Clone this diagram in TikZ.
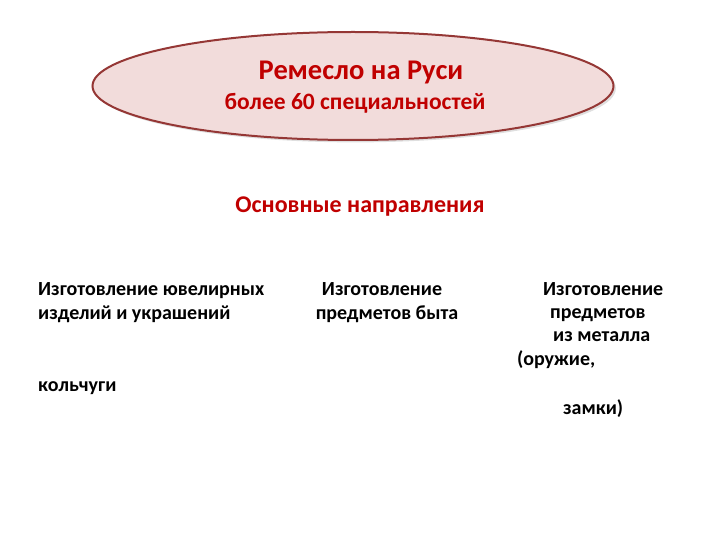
\documentclass[tikz,border=0pt]{standalone}
\usepackage{fontspec}
\setmainfont{Carlito}
\usetikzlibrary{shapes.geometric,shadows}
\definecolor{darkred}{HTML}{C00000}
\definecolor{rim}{HTML}{953735}
\definecolor{pink}{HTML}{F2DCDB}

\begin{document}
\begin{tikzpicture}[x=1pt,y=-1pt]
    \tikzstyle{title}=[ellipse,draw=rim,line width=2pt,fill=pink,minimum width=521pt,minimum height=108pt,inner sep=0pt,drop shadow={opacity=0.25}]
    \tikzstyle{red text}=[text=darkred,font=\bfseries,inner sep=0pt]
    \tikzstyle{item}=[font=\bfseries\fontsize{20}{24}\selectfont,inner sep=0pt,anchor=base west]
    \useasboundingbox (0,0) rectangle (720,540);

    % Main ellipse
    \node[title] (craft) at (353,86) {};
    \node[red text,font=\bfseries\fontsize{28.5}{32}\selectfont,anchor=base] (name) at (361,80) {Ремесло на Руси};
    \node[red text,font=\bfseries\fontsize{23.5}{28}\selectfont,anchor=base] (count) at (355,110) {более 60 специальностей};

    % Heading
    \node[red text,font=\bfseries\fontsize{24}{28}\selectfont,anchor=base] (main) at (360,212) {Основные направления};

    % Left column
    \node[item] (jewel-1) at (38,295) {Изготовление ювелирных};
    \node[item] (jewel-2) at (38,319) {изделий и украшений};
    \node[item] (mail) at (38,391) {кольчуги};

    % Middle column
    \node[item,anchor=base] (home-1) at (382,295) {Изготовление};
    \node[item,anchor=base] (home-2) at (387,319) {предметов быта};

    % Right column
    \node[item] (metal-1) at (543,295) {Изготовление};
    \node[item] (metal-2) at (550,318) {предметов};
    \node[item] (metal-3) at (553,341) {из металла};
    \node[item] (metal-4) at (517,365) {(оружие,};
    \node[item] (metal-5) at (563,414) {замки)};
\end{tikzpicture}
\end{document}
